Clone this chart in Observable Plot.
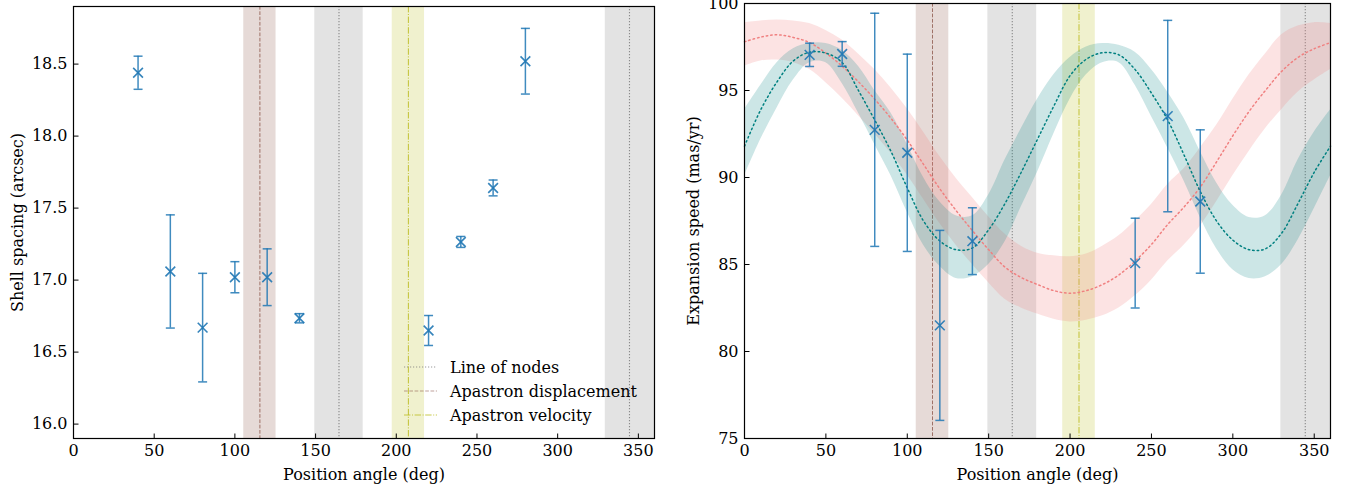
<!DOCTYPE html>
<html><head><meta charset="utf-8">
<script src="https://cdn.jsdelivr.net/npm/d3@7"></script>
<script src="https://cdn.jsdelivr.net/npm/@observablehq/plot@0.6"></script>
<style>
body{margin:0;background:#fff;font-family:"DejaVu Serif",serif;}
#wrap{display:flex;width:1348px;height:484px;}
.panel{position:relative;width:674px;height:484px;}
svg{display:block}
</style></head><body>
<div id="wrap"><div id="left" class="panel"></div><div id="right" class="panel"></div></div>
<script>
// ---------- Data ----------
const xTicks = [0, 50, 100, 150, 200, 250, 300, 350];
const leftYTicks = [16.0, 16.5, 17.0, 17.5, 18.0, 18.5];
const rightYTicks = [75, 80, 85, 90, 95, 100];

// Shell spacing (left panel)
const shellAngle = [40, 60, 80, 100, 120, 140, 220, 240, 260, 280];
const shellSpacing = [18.44, 17.06, 16.67, 17.02, 17.02, 16.735, 16.65, 17.265, 17.64, 18.52];
const shellErr = [0.115, 0.393, 0.377, 0.108, 0.197, 0.032, 0.104, 0.038, 0.055, 0.228];

// Expansion speed (right panel)
const speedAngle = [40, 60, 80, 100, 120, 140, 240, 260, 280];
const speedValue = [97.05, 97.1, 92.74, 91.42, 81.5, 86.34, 85.08, 93.53, 88.62];
const speedErr = [0.67, 0.71, 6.7, 5.67, 5.46, 1.92, 2.58, 5.5, 4.12];

// Model curves (right panel), read every 10 deg
const curveAngle = [0,10,20,30,40,50,60,70,80,90,100,110,120,130,140,150,160,170,180,190,200,210,220,230,240,250,260,270,280,290,300,310,320,330,340,350,360];
const tealMid = [91.8,93.9,95.5,96.7,97.2,97.15,96.6,95.0,93.3,91.5,89.4,87.5,86.35,85.85,85.95,87.0,88.5,90.3,92.2,94.1,95.85,96.8,97.17,97.05,96.2,94.85,93.3,91.3,89.2,87.5,86.4,85.85,85.9,86.8,88.5,90.3,91.8];
const tealLo = [90.1,92.2,94.0,95.6,96.6,96.6,95.4,93.7,91.9,90.1,88.0,86.1,84.9,84.2,84.3,85.0,86.3,88.3,90.3,92.5,94.5,95.9,96.6,96.6,95.3,93.5,91.7,89.8,87.7,85.9,84.7,84.2,84.3,85.0,86.4,88.2,90.1];
const tealHi = [93.9,95.3,96.6,97.4,97.7,97.7,97.3,96.4,95.0,93.7,91.9,90.0,88.6,87.8,87.8,89.0,91.0,92.8,94.5,95.9,96.9,97.5,97.7,97.6,97.2,96.2,94.9,93.4,91.5,89.7,88.4,87.7,87.8,89.0,91.0,92.6,93.9];
const pinkMid = [97.8,98.07,98.2,98.05,97.75,97.15,96.4,95.5,94.5,93.4,92.15,90.75,89.35,88.1,86.95,85.85,84.85,84.25,83.85,83.5,83.35,83.5,83.85,84.4,85.2,86.15,87.3,88.3,89.45,90.9,92.4,93.8,95.0,96.1,96.9,97.4,97.75];
const pinkLo = [96.4,96.7,96.75,96.6,96.2,95.45,94.55,93.55,92.5,91.4,90.15,88.75,87.35,86.1,85.0,83.95,83.0,82.5,82.15,81.85,81.7,81.8,82.05,82.5,83.2,84.1,85.2,86.1,87.2,88.6,90.1,91.5,92.8,93.9,94.9,95.6,96.2];
const pinkHi = [98.9,99.0,99.05,99.0,98.85,98.45,97.9,97.1,96.2,95.15,93.95,92.6,91.2,89.95,88.85,87.75,86.75,86.05,85.65,85.5,85.45,85.6,86.05,86.65,87.5,88.45,89.6,90.5,91.7,93.0,94.5,95.9,97.1,98.2,98.7,98.9,98.85];

// Reference angles
const nodeLines = [164.5, 344.5];
const nodeBandStart = [149.5, 329.5];
const nodeBandEnd = [179.5, 360];
const dispLine = [115.5];
const dispBandStart = [105.5];
const dispBandEnd = [125.5];
const leftVelLine = [207.5];
const leftVelBandStart = [197.5];
const leftVelBandEnd = [217.5];
const rightVelLine = [205.5];
const rightVelBandStart = [195.5];
const rightVelBandEnd = [215.5];

const legendLabels = ["Line of nodes", "Apastron displacement", "Apastron velocity"];

// ---------- Styles ----------
const BLUE = "#1f77b4";
const GRAY = "#808080";
const BROWN = "#8c564b";
const OLIVE = "#bcbd22";
const DASH_NODES = "1.2,1.8";
const DASH_DISP = "3.7,1.6";
const DASH_VEL = "6.4,1.6,1,1.6";
const DOTS = "1.5,3";
const FS = 16;

const capSym = {draw(ctx){ ctx.moveTo(-4.5,0); ctx.lineTo(4.5,0); }};
const tickUp = {draw(ctx){ ctx.moveTo(0,0); ctx.lineTo(0,-5); }};
const tickRight = {draw(ctx){ ctx.moveTo(0,0); ctx.lineTo(5,0); }};

function bands(starts, ends){ return starts.map((s,i)=>({s, e: ends[i]})); }

function refMarks(velStart, velEnd, velLine){
  return [
    Plot.rect(bands(nodeBandStart, nodeBandEnd), {x1:"s", x2:"e", fill: GRAY, fillOpacity: 0.22}),
    Plot.rect(bands(dispBandStart, dispBandEnd), {x1:"s", x2:"e", fill: BROWN, fillOpacity: 0.22}),
    Plot.rect(bands(velStart, velEnd), {x1:"s", x2:"e", fill: OLIVE, fillOpacity: 0.22}),
    Plot.ruleX(nodeLines, {x: d=>d, stroke: GRAY, strokeOpacity: 0.9, strokeDasharray: DASH_NODES, strokeWidth: 1.1}),
    Plot.ruleX(dispLine, {x: d=>d, stroke: BROWN, strokeOpacity: 0.8, strokeDasharray: DASH_DISP, strokeWidth: 1}),
    Plot.ruleX(velLine, {x: d=>d, stroke: OLIVE, strokeOpacity: 0.9, strokeDasharray: DASH_VEL, strokeWidth: 1}),
  ];
}

function pointMarks(angles, vals, errs){
  const pts = angles.map((a,i)=>({a, v: vals[i], lo: vals[i]-errs[i], hi: vals[i]+errs[i]}));
  return [
    Plot.ruleX(pts, {x:"a", y1:"lo", y2:"hi", stroke: BLUE, strokeOpacity: 0.85, strokeWidth: 1.5}),
    Plot.dot(pts, {x:"a", y:"lo", symbol: capSym, r: 4.5, fill:"none", stroke: BLUE, strokeOpacity: 0.85, strokeWidth: 1.5}),
    Plot.dot(pts, {x:"a", y:"hi", symbol: capSym, r: 4.5, fill:"none", stroke: BLUE, strokeOpacity: 0.85, strokeWidth: 1.5}),
    Plot.dot(pts, {x:"a", y:"v", symbol: "times", r: 4.5, stroke: BLUE, strokeOpacity: 0.9, strokeWidth: 1.6}),
  ];
}

function axisMarks(yTicks, yFmt, ylabel, ylabelDx){
  return [
    Plot.axisX({ticks: xTicks, tickSize: 0, tickPadding: 6, label: null, tickFormat: d=>String(d)}),
    Plot.axisY({ticks: yTicks, tickSize: 0, tickPadding: 6, label: null, tickFormat: yFmt}),
    Plot.dot(xTicks, {x: d=>d, frameAnchor: "bottom", symbol: tickUp, fill: "none", stroke: "black", strokeWidth: 1}),
    Plot.dot(yTicks, {y: d=>d, frameAnchor: "left", symbol: tickRight, fill: "none", stroke: "black", strokeWidth: 1}),
    Plot.text(["Position angle (deg)"], {text: d=>d, frameAnchor: "bottom", lineAnchor: "middle", textAnchor: "middle", dy: 36, fill: "black"}),
    Plot.text([ylabel], {text: d=>d, frameAnchor: "left", rotate: -90, textAnchor: "middle", lineAnchor: "middle", dx: ylabelDx, fill: "black"}),
    Plot.frame({stroke: "black", strokeWidth: 1.2}),
  ];
}

const commonStyle = {fontFamily: "DejaVu Serif", fontSize: FS + "px", color: "black", background: "white", overflow: "visible"};

// ---------- Left panel ----------
const left = Plot.plot({
  width: 674, height: 484,
  marginLeft: 73, marginRight: 20, marginTop: 6, marginBottom: 46,
  style: commonStyle,
  x: {domain: [0, 360]},
  y: {domain: [15.9, 18.9]},
  marks: [
    ...refMarks(leftVelBandStart, leftVelBandEnd, leftVelLine),
    ...pointMarks(shellAngle, shellSpacing, shellErr),
    ...axisMarks(leftYTicks, d=>d.toFixed(1), "Shell spacing (arcsec)", -56),
  ]
});
document.getElementById("left").appendChild(left);

// Legend (left panel, no frame)
{
  const svg = d3.select("#left").append("svg")
    .attr("width", 674).attr("height", 484)
    .style("position", "absolute").style("left", "0px").style("top", "0px")
    .style("pointer-events", "none");
  const styles = [
    {stroke: GRAY, dash: DASH_NODES, op: 0.8},
    {stroke: BROWN, dash: DASH_DISP, op: 0.55},
    {stroke: OLIVE, dash: DASH_VEL, op: 0.8},
  ];
  legendLabels.forEach((lab, i) => {
    const y = 367 + i * 24;
    svg.append("line").attr("x1", 404).attr("x2", 437).attr("y1", y).attr("y2", y)
      .attr("stroke", styles[i].stroke).attr("stroke-opacity", styles[i].op)
      .attr("stroke-dasharray", styles[i].dash).attr("stroke-width", 1.1);
    svg.append("text").attr("x", 450).attr("y", y).attr("dy", "0.35em")
      .attr("font-family", "DejaVu Serif").attr("font-size", FS).text(lab);
  });
}

// ---------- Right panel ----------
const curveRows = curveAngle.map((a,i)=>({a, tm: tealMid[i], tl: tealLo[i], th: tealHi[i], pm: pinkMid[i], pl: pinkLo[i], ph: pinkHi[i]}));
const right = Plot.plot({
  width: 674, height: 484,
  marginLeft: 70, marginRight: 18, marginTop: 3, marginBottom: 46,
  style: commonStyle,
  x: {domain: [0, 360]},
  y: {domain: [75, 100]},
  marks: [
    ...refMarks(rightVelBandStart, rightVelBandEnd, rightVelLine),
    Plot.areaY(curveRows, {x: "a", y1: "pl", y2: "ph", fill: "lightcoral", fillOpacity: 0.22, curve: "catmull-rom"}),
    Plot.areaY(curveRows, {x: "a", y1: "tl", y2: "th", fill: "teal", fillOpacity: 0.2, curve: "catmull-rom"}),
    Plot.line(curveRows, {x: "a", y: "pm", stroke: "lightcoral", strokeWidth: 1.5, strokeDasharray: DOTS, curve: "catmull-rom"}),
    Plot.line(curveRows, {x: "a", y: "tm", stroke: "teal", strokeWidth: 1.5, strokeDasharray: DOTS, curve: "catmull-rom"}),
    ...pointMarks(speedAngle, speedValue, speedErr),
    ...axisMarks(rightYTicks, d=>String(d), "Expansion speed (mas/yr)", -51),
  ]
});
document.getElementById("right").appendChild(right);
</script>
</body></html>
